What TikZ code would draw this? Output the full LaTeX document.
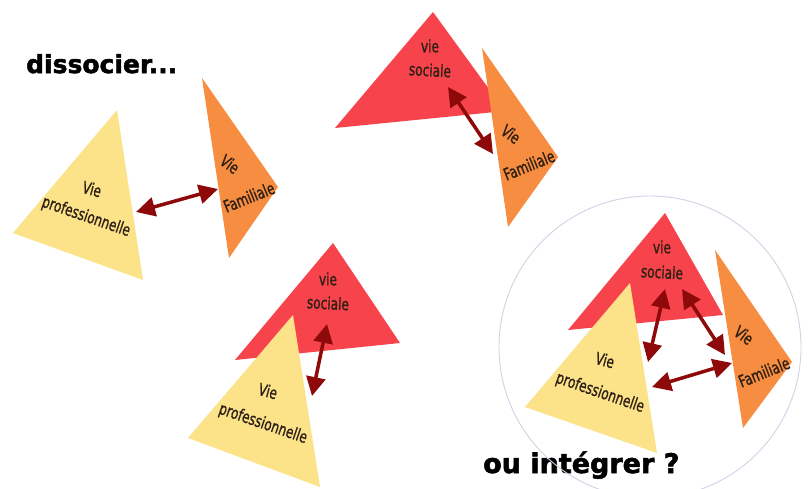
\documentclass[tikz,border=0pt]{standalone}
\usepackage{fontspec}
\setmainfont{DejaVu Sans}
\newfontfamily\labfont[FakeBold=1.2]{DejaVu Sans Condensed}
\usetikzlibrary{arrows.meta}
\definecolor{cyel}{HTML}{FCE38A}
\definecolor{cora}{HTML}{F68D40}
\definecolor{cred}{HTML}{F7434B}
\definecolor{carr}{HTML}{8E0A0A}
\definecolor{ctxt}{HTML}{2E2014}
\definecolor{ccirc}{HTML}{D2D2E6}
\newcommand{\lbl}[1]{\scalebox{0.9}[1.12]{#1}}
\tikzset{
  yel/.style={fill=cyel},
  ora/.style={fill=cora},
  red/.style={fill=cred},
  lab/.style={font=\labfont\fontsize{15}{15}\selectfont, text=ctxt, inner sep=0pt},
  title/.style={font=\bfseries\addfontfeatures{FakeBold=2}\fontsize{25}{25}\selectfont, text=black, inner sep=0pt, anchor=base west},
  link/.style={draw=carr, line width=3.5pt, {Triangle[length=19pt,width=19pt]}-{Triangle[length=19pt,width=19pt]}}
}
\begin{document}
\begin{tikzpicture}[x=1pt,y=-1pt]
\useasboundingbox[fill=white] (0,0) rectangle (811,488);

% titles
\node[title] (t1) at (26,73) {dissocier...};
\node[title, font=\bfseries\addfontfeatures{FakeBold=2}\fontsize{27}{27}\selectfont] (t2) at (483,473) {ou intégrer ?};

% ---------- group 1 : dissocier
\fill[yel] (117,110) -- (13,233) -- (143,280) -- cycle;
\fill[ora] (202,78) -- (278,187) -- (229,258) -- cycle;
\node[lab, rotate=-15] (g1v) at (92,189) {\lbl{Vie}};
\node[lab, rotate=-19] (g1p) at (86,217) {\lbl{professionnelle}};
\node[lab, rotate=-36] (g1fv) at (230,164) {\lbl{Vie}};
\node[lab, rotate=22] (g1f) at (249,197) {\lbl{Familiale}};
\coordinate (g1a) at (136,212);
\coordinate (g1b) at (218,189);
\draw[link] (g1a) -- (g1b);

% ---------- group 2 : sociale / familiale
\fill[red] (433,12) -- (335,128) -- (505,111) -- cycle;
\fill[ora] (482,48) -- (558,157) -- (508,227) -- cycle;
\node[lab] (g2v) at (430,46) {\lbl{vie}};
\node[lab, rotate=-3] (g2s) at (430,70) {\lbl{sociale}};
\node[lab, rotate=-36] (g2fv) at (511,134) {\lbl{Vie}};
\node[lab, rotate=22] (g2f) at (529,165) {\lbl{Familiale}};
\coordinate (g2a) at (448,87);
\coordinate (g2b) at (493,154);
\draw[link] (g2a) -- (g2b);

% ---------- group 3 : sociale / professionnelle
\fill[red] (333,243) -- (235,360) -- (400,343) -- cycle;
\fill[yel] (293,315) -- (188,438) -- (320,487) -- cycle;
\node[lab] (g3v) at (328,279) {\lbl{vie}};
\node[lab, rotate=-3] (g3s) at (328,303) {\lbl{sociale}};
\node[lab, rotate=-15] (g3pv) at (268,391) {\lbl{Vie}};
\node[lab, rotate=-19] (g3p) at (263,424) {\lbl{professionnelle}};
\coordinate (g3a) at (327,324);
\coordinate (g3b) at (312,396);
\draw[link] (g3a) -- (g3b);

% ---------- group 4 : integrer
\node[draw=ccirc, line width=0.9pt, circle, minimum size=302pt, inner sep=0pt] (circ) at (650,347) {};
\fill[red] (665,213) -- (568,330) -- (723,315) -- cycle;
\fill[yel] (630,283) -- (525,407) -- (657,453) -- cycle;
\fill[ora] (715,250) -- (792,362) -- (743,428) -- cycle;
\node[lab] (g4v) at (662,247) {\lbl{vie}};
\node[lab, rotate=-3] (g4s) at (662,272) {\lbl{sociale}};
\node[lab, rotate=-15] (g4pv) at (605,360) {\lbl{Vie}};
\node[lab, rotate=-19] (g4p) at (600,393) {\lbl{professionnelle}};
\node[lab, rotate=-36] (g4fv) at (744,335) {\lbl{Vie}};
\node[lab, rotate=22] (g4f) at (764,372) {\lbl{Familiale}};
\coordinate (g4a) at (665,289);
\coordinate (g4b) at (648,362);
\coordinate (g4c) at (682,289);
\coordinate (g4d) at (725,355);
\coordinate (g4e) at (652,387);
\coordinate (g4f2) at (732,363);
\draw[link] (g4a) -- (g4b);
\draw[link] (g4c) -- (g4d);
\draw[link] (g4e) -- (g4f2);
\end{tikzpicture}
\end{document}
